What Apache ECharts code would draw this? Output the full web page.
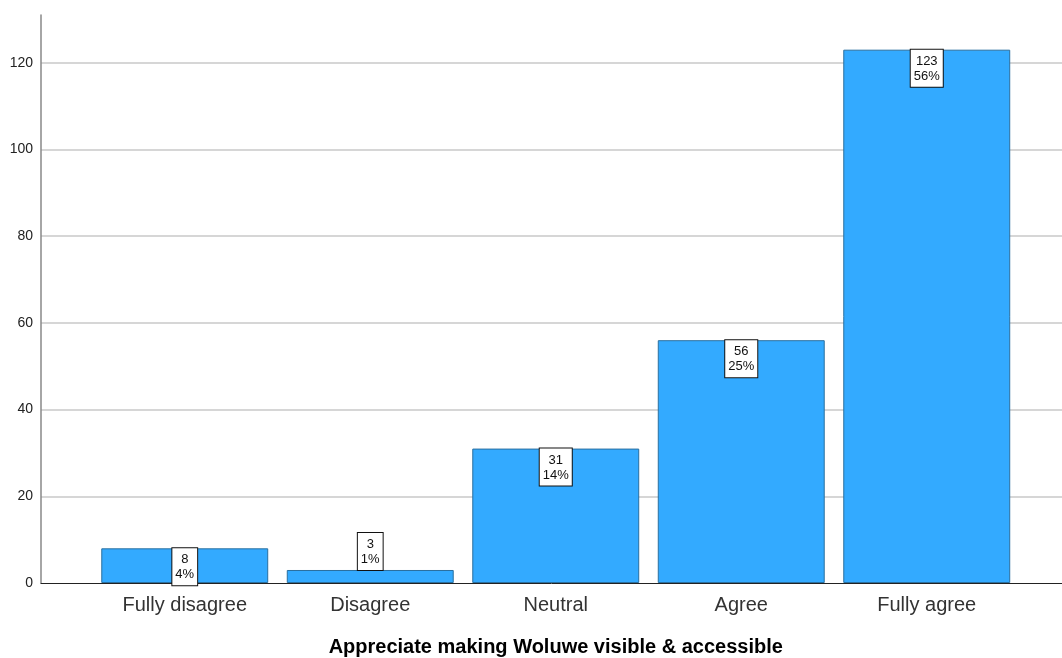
<!DOCTYPE html>
<html>
<head>
<meta charset="utf-8">
<script src="https://cdn.jsdelivr.net/npm/echarts@6/dist/echarts.min.js"></script>
<style>html,body{margin:0;padding:0;background:#fff}#c{width:1062px;height:658px}</style>
</head>
<body>
<div id="c"></div>
<script>
const categories = ['Fully disagree', 'Disagree', 'Neutral', 'Agree', 'Fully agree'];
const counts = [8, 3, 31, 56, 123];
const percents = ['4%', '1%', '14%', '25%', '56%'];
const yTicks = [0, 20, 40, 60, 80, 100, 120];
const xTitle = 'Appreciate making Woluwe visible & accessible';

const FONT = 'Liberation Sans, Arial, sans-serif';
const yMax = 131;

const barData = counts.map((v, i) => ({
  value: v,
  label: {
    position: v < 5 ? 'top' : 'insideTop',
    distance: 0
  }
}));

const chart = echarts.init(document.getElementById('c'), null, {renderer: 'canvas'});
chart.setOption({
  animation: false,
  backgroundColor: '#ffffff',
  grid: [
    {left: 41, right: 0, top: 15, bottom: 75, containLabel: false, outerBoundsMode: 'none'},
    {left: 92, right: 42.5, top: 15, bottom: 75, containLabel: false, outerBoundsMode: 'none'}
  ],
  xAxis: [
    {
      gridIndex: 0, type: 'value', min: 0, max: 1,
      axisLine: {show: true, onZero: false, lineStyle: {color: '#222', width: 1}},
      axisTick: {show: false}, axisLabel: {show: false}, splitLine: {show: false}
    },
    {
      gridIndex: 1, type: 'category', data: categories,
      axisLine: {show: false}, axisTick: {show: false},
      axisLabel: {fontFamily: FONT, fontSize: 20, color: '#333', margin: 12},
      name: xTitle, nameLocation: 'middle', nameGap: 54,
      nameTextStyle: {fontFamily: FONT, fontSize: 20, fontWeight: 'bold', color: '#000'}
    }
  ],
  yAxis: [
    {
      gridIndex: 0, type: 'value', min: 0, max: yMax, interval: 20,
      axisLine: {show: true, lineStyle: {color: '#888', width: 1.5}},
      axisTick: {show: false},
      axisLabel: {
        fontFamily: FONT, fontSize: 14, color: '#222', margin: 8,
        formatter: v => yTicks.includes(v) ? String(v) : ''
      },
      splitLine: {show: true, showMaxLine: false, showMinLine: false, lineStyle: {color: '#c8c8c8', width: 1.5}}
    },
    {
      gridIndex: 1, type: 'value', min: 0, max: yMax, interval: 20,
      show: false, splitLine: {show: false}
    }
  ],
  series: [{
    type: 'bar', xAxisIndex: 1, yAxisIndex: 1,
    data: barData,
    barWidth: '90%',
    itemStyle: {color: '#33aaff', borderColor: '#2a6f9f', borderWidth: 1},
    label: {
      show: true,
      formatter: p => counts[p.dataIndex] + '\n' + percents[p.dataIndex],
      fontFamily: FONT, fontSize: 13, color: '#111', lineHeight: 15,
      backgroundColor: '#fff', borderColor: '#111', borderWidth: 1,
      padding: [4, 3, 3, 3], align: 'center'
    }
  }]
});
</script>
</body>
</html>
